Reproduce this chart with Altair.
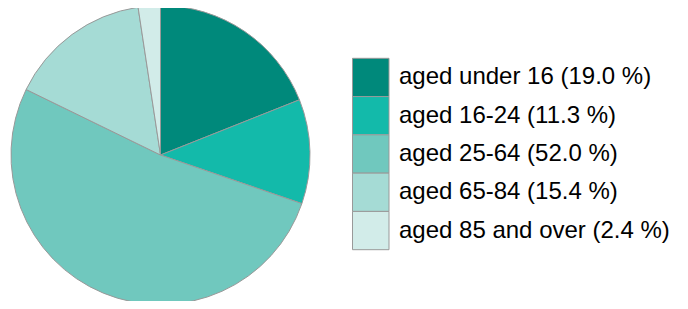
import altair as alt
import pandas as pd

categories = ["aged under 16 (19.0 %)", "aged 16-24 (11.3 %)", "aged 25-64 (52.0 %)",
              "aged 65-84 (15.4 %)", "aged 85 and over (2.4 %)"]
values = [19.0, 11.3, 52.0, 15.4, 2.4]
colors = ["#00897B", "#13BAAA", "#70C8BE", "#A5DBD5", "#D2ECE9"]

df = pd.DataFrame({"label": categories, "value": values, "order": list(range(len(values)))})

color = alt.Color("label:N", scale=alt.Scale(domain=categories, range=colors), legend=None)
ypos = alt.Y("label:N", sort=categories, axis=None,
             scale=alt.Scale(range=[50.3, 241.7], paddingInner=0, paddingOuter=0))

pie = alt.Chart(df).mark_arc(
    radius=149.5, stroke="#999999", strokeWidth=1
).encode(
    theta=alt.Theta("value:Q", stack=True),
    order=alt.Order("order:Q"),
    x=alt.value(152.5),
    y=alt.value(147),
    color=color,
)

swatches = alt.Chart(df).mark_rect(stroke="#999999", strokeWidth=1).encode(
    y=ypos,
    x=alt.value(344.5),
    x2=alt.value(381),
    color=color,
)

labels = alt.Chart(df).mark_text(
    align="left", baseline="middle", font="Liberation Sans", fontSize=24, color="#000000"
).encode(
    y=alt.Y("label:N", sort=categories, axis=None, bandPosition=0.5),
    x=alt.value(391),
    text="label:N",
)

chart = alt.layer(pie, swatches, labels).properties(
    width=672, height=293, padding=0, autosize="none"
).configure_view(stroke=None)

chart.save("out.html", embed_options={"renderer": "svg", "actions": False})
